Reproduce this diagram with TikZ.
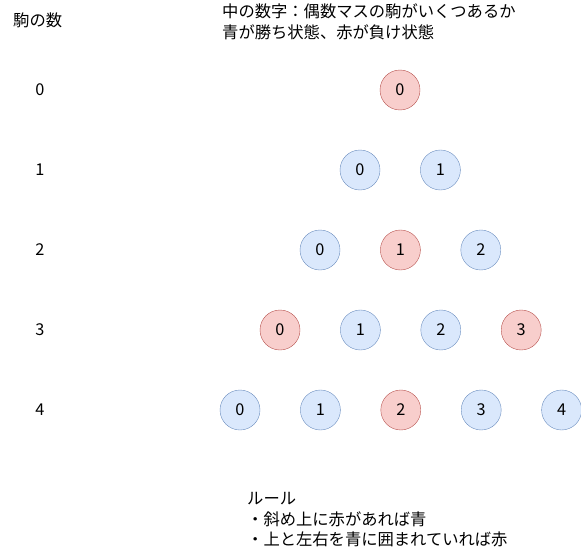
\documentclass[tikz,border=0pt]{standalone}
\usepackage{fontspec}
\setmainfont{Noto Sans CJK JP}
\usetikzlibrary{positioning}

\definecolor{winfill}{HTML}{DAE8FC}
\definecolor{winline}{HTML}{6C8EBF}
\definecolor{losefill}{HTML}{F8CECC}
\definecolor{loseline}{HTML}{B85450}

\tikzset{
  win/.style={circle,draw=winline,fill=winfill,minimum size=40pt,inner sep=0pt},
  lose/.style={circle,draw=loseline,fill=losefill,minimum size=40pt,inner sep=0pt},
  note/.style={anchor=west,align=left,inner sep=0pt}
}

\begin{document}
\begin{tikzpicture}[x=1pt,y=-1pt,font=\fontsize{16.3}{20.5}\selectfont]
  \useasboundingbox (0,0) rectangle (581,551);

  \node[note] (title) at (13,20) {駒の数};
  \node[note] (legend) at (222,22) {中の数字：偶数マスの駒がいくつあるか\\青が勝ち状態、赤が負け状態};

  \node (n0) at (40,90) {0};
  \node (n1) at (40,170) {1};
  \node (n2) at (40,250) {2};
  \node (n3) at (40,330) {3};
  \node (n4) at (40,410) {4};

  \node[lose] (s_00) at (400,90) {0};

  \node[win] (s_10) at (360,170) {0};
  \node[win] (s_11) [right=40pt of s_10] {1};

  \node[win] (s_20) at (320,250) {0};
  \node[lose] (s_21) [right=40pt of s_20] {1};
  \node[win] (s_22) [right=40pt of s_21] {2};

  \node[lose] (s_30) at (280,330) {0};
  \node[win] (s_31) [right=40pt of s_30] {1};
  \node[win] (s_32) [right=40pt of s_31] {2};
  \node[lose] (s_33) [right=40pt of s_32] {3};

  \node[win] (s_40) at (240,410) {0};
  \node[win] (s_41) [right=40pt of s_40] {1};
  \node[lose] (s_42) [right=40pt of s_41] {2};
  \node[win] (s_43) [right=40pt of s_42] {3};
  \node[win] (s_44) [right=40pt of s_43] {4};

  \node[note] (rule) at (247,520) {ルール\\・斜め上に赤があれば青\\・上と左右を青に囲まれていれば赤};
\end{tikzpicture}
\end{document}
